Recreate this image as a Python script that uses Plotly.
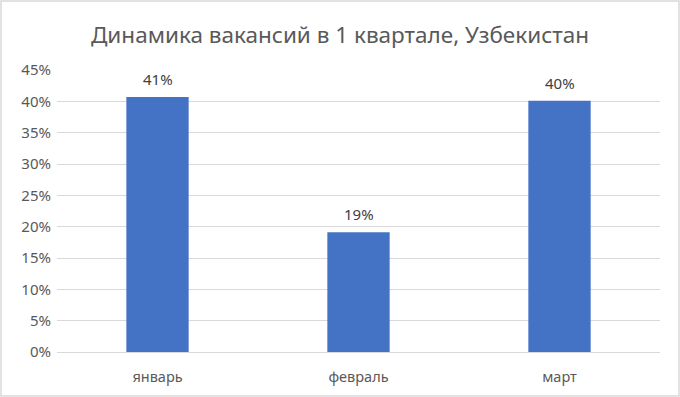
import plotly.graph_objects as go

months = ["январь", "февраль", "март"]
values = [0.407, 0.191, 0.401]
labels = ["41%", "19%", "40%"]
yticks = [0, 0.05, 0.10, 0.15, 0.20, 0.25, 0.30, 0.35, 0.40, 0.45]
yticklabels = ["0%", "5%", "10%", "15%", "20%", "25%", "30%", "35%", "40%", "45%"]

W, H = 680, 397
ml, mr, mt, mb = 57, 20, 70, 45
pw, ph = W - ml - mr, H - mt - mb

fig = go.Figure(go.Bar(
    x=months, y=values,
    marker=dict(color="#4472C4", line=dict(width=0)),
    width=0.31,
))

annotations = [
    dict(x=m, y=v, text=t, xref="x", yref="y", showarrow=False,
         yanchor="bottom", yshift=6, font=dict(size=15, color="#404040"))
    for m, v, t in zip(months, values, labels)
]

fig.update_layout(
    width=W, height=H,
    margin=dict(l=ml, r=mr, t=mt, b=mb),
    paper_bgcolor="white", plot_bgcolor="white",
    font=dict(family="Noto Sans, sans-serif", color="#595959"),
    title=dict(text="Динамика вакансий в 1 квартале, Узбекистан",
               x=0.5, xanchor="center", y=1 - 35 / H, yanchor="middle",
               font=dict(size=22.5, color="#595959")),
    showlegend=False,
    annotations=annotations,
    xaxis=dict(showgrid=False, showline=True, linecolor="#D9D9D9", linewidth=1,
               ticks="", tickfont=dict(size=14.5, color="#595959"),
               ticklabelstandoff=12),
    yaxis=dict(range=[0, 0.45], tickvals=yticks, ticktext=yticklabels,
               showgrid=True, gridcolor="#D9D9D9", gridwidth=1, zeroline=False,
               showline=False, ticks="", tickfont=dict(size=15, color="#595959"),
               ticklabelstandoff=5),
    shapes=[dict(type="rect", xref="paper", yref="paper",
                 x0=(1 - ml) / pw, x1=(W - 1 - ml) / pw,
                 y0=-(mb - 1) / ph, y1=(ph + mt - 1) / ph,
                 line=dict(color="#D9D9D9", width=1.5), fillcolor="rgba(0,0,0,0)")],
)

fig.write_html("out.html", config={"displayModeBar": False})
with open("out.html", encoding="utf-8") as f:
    html = f.read()
html = html.replace("<head>", "<head><style>html,body{margin:0;padding:0;overflow:hidden;}</style>", 1)
with open("out.html", "w", encoding="utf-8") as f:
    f.write(html)
